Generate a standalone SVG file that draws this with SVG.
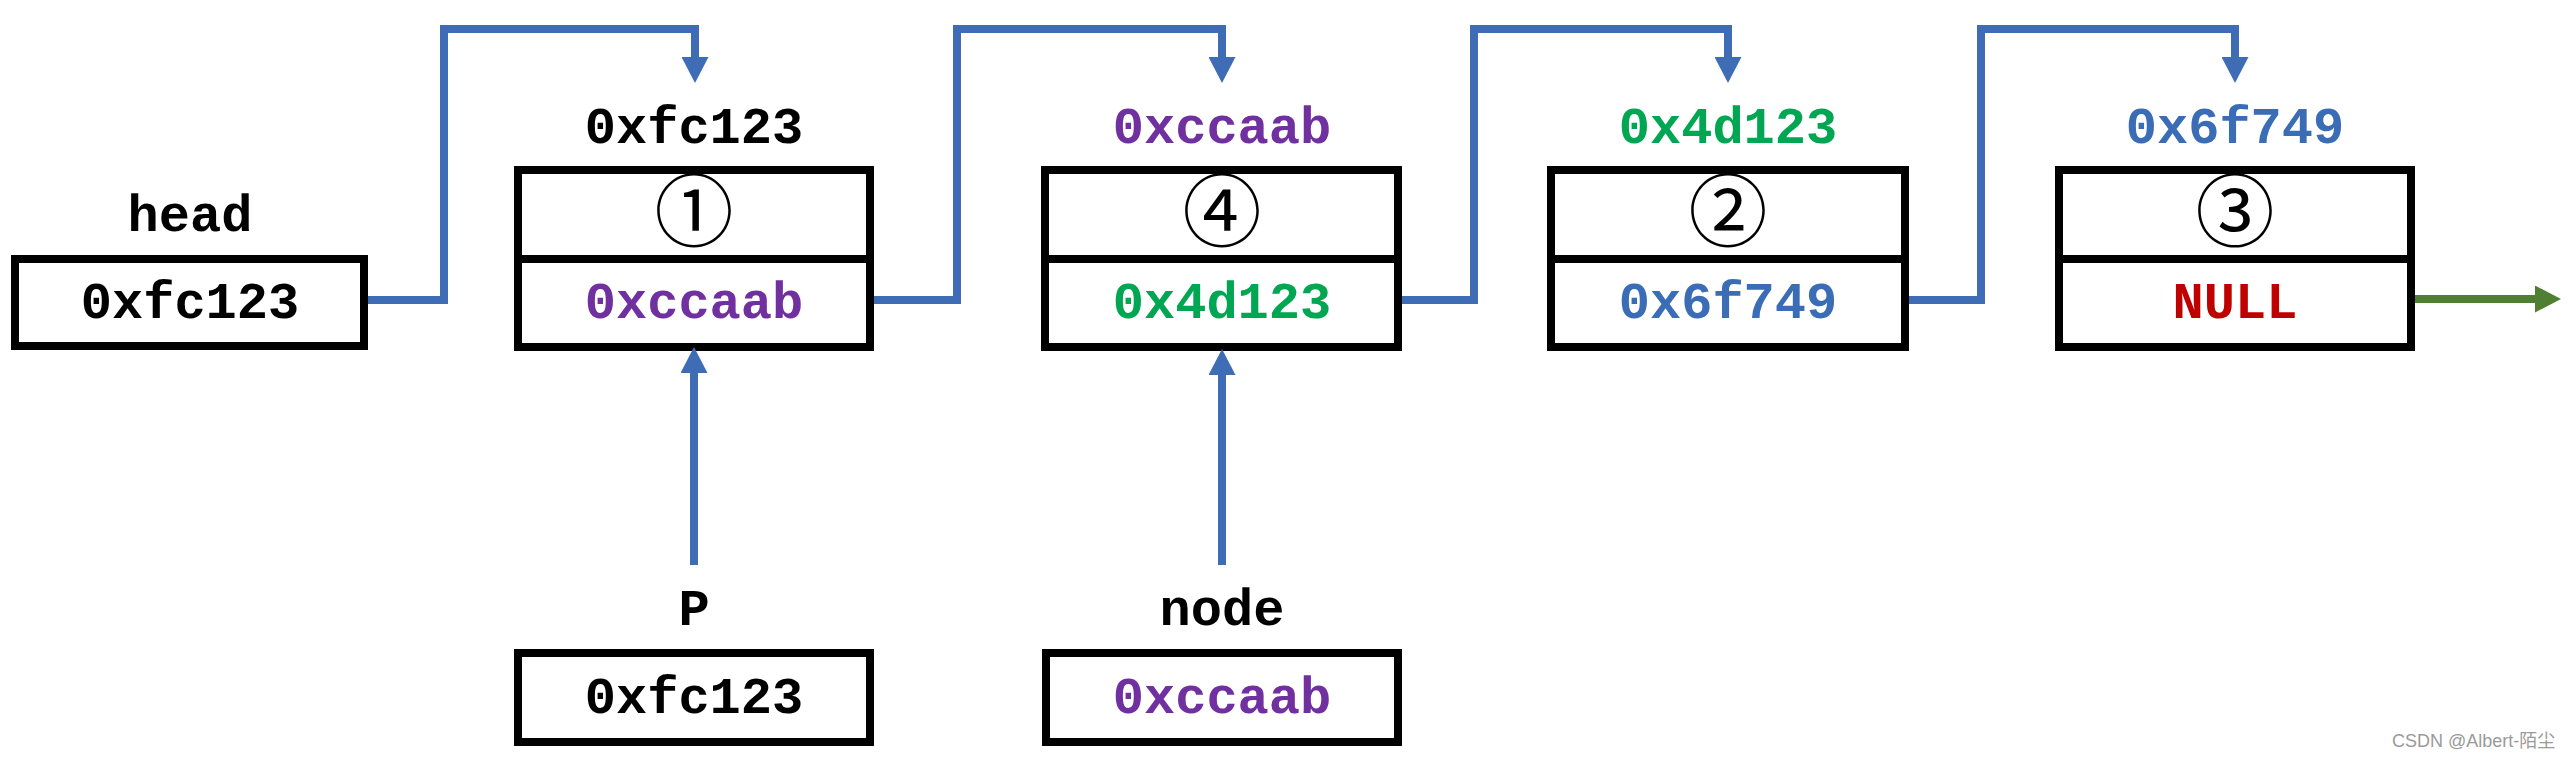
<svg xmlns="http://www.w3.org/2000/svg" width="2574" height="760" viewBox="0 0 2574 760">
  <style>
    .box { fill: #ffffff; stroke: #000000; stroke-width: 8; }
    .div { stroke: #000000; stroke-width: 8; }
    .t { font-family: "Liberation Mono", "Courier New", monospace; font-weight: bold; font-size: 52px; text-anchor: middle; }
    .num { font-family: "Noto Sans CJK SC", "DejaVu Sans", sans-serif; font-size: 79px; text-anchor: middle; fill: #000; }
    .blk { fill: #000000; }
    .pur { fill: #7030A0; }
    .grn { fill: #00A651; }
    .blu { fill: #3A6DB5; }
    .red { fill: #C00000; }
    .link { fill: none; stroke: #3E6DB5; stroke-width: 8; stroke-linejoin: miter; }
    .nil { fill: none; stroke: #4E7F32; stroke-width: 8; }
    .wm { font-family: "Liberation Sans", "Noto Sans CJK SC", sans-serif; font-size: 18px; fill: #9a9a9a; }
  </style>
  <defs>
    <marker id="ab" markerUnits="userSpaceOnUse" markerWidth="27" markerHeight="27" refX="2" refY="13.5" orient="auto" viewBox="0 0 27 27">
      <path d="M0,0 L26,13.5 L0,27 z" fill="#3E6DB5"/>
    </marker>
    <marker id="ag" markerUnits="userSpaceOnUse" markerWidth="27" markerHeight="27" refX="2" refY="13.5" orient="auto" viewBox="0 0 27 27">
      <path d="M0,0 L26,13.5 L0,27 z" fill="#4E7F32"/>
    </marker>
  </defs>
  <rect width="2574" height="760" fill="#ffffff"/>

  <g id="head">
    <text class="t blk" x="190" y="231">head</text>
    <rect class="box" x="15" y="259" width="349" height="87"/>
    <text class="t blk" x="190" y="318">0xfc123</text>
  </g>

  <g id="node1">
    <text class="t blk" x="694" y="143">0xfc123</text>
    <rect class="box" x="518" y="170" width="352" height="177"/>
    <line class="div" x1="518" y1="259" x2="870" y2="259"/>
    <text class="num" x="694" y="241">①</text>
    <text class="t pur" x="694" y="318">0xccaab</text>
  </g>

  <g id="node4">
    <text class="t pur" x="1222" y="143">0xccaab</text>
    <rect class="box" x="1045" y="170" width="353" height="177"/>
    <line class="div" x1="1045" y1="259" x2="1398" y2="259"/>
    <text class="num" x="1222" y="241">④</text>
    <text class="t grn" x="1222" y="318">0x4d123</text>
  </g>

  <g id="node2">
    <text class="t grn" x="1728" y="143">0x4d123</text>
    <rect class="box" x="1551" y="170" width="354" height="177"/>
    <line class="div" x1="1551" y1="259" x2="1905" y2="259"/>
    <text class="num" x="1728" y="241">②</text>
    <text class="t blu" x="1728" y="318">0x6f749</text>
  </g>

  <g id="node3">
    <text class="t blu" x="2235" y="143">0x6f749</text>
    <rect class="box" x="2059" y="170" width="352" height="177"/>
    <line class="div" x1="2059" y1="259" x2="2411" y2="259"/>
    <text class="num" x="2235" y="241">③</text>
    <text class="t red" x="2235" y="318">NULL</text>
  </g>

  <g id="p">
    <text class="t blk" x="694" y="625">P</text>
    <rect class="box" x="518" y="653" width="352" height="89"/>
    <text class="t blk" x="694" y="713">0xfc123</text>
  </g>

  <g id="node">
    <text class="t blk" x="1222" y="625">node</text>
    <rect class="box" x="1046" y="653" width="352" height="89"/>
    <text class="t pur" x="1222" y="713">0xccaab</text>
  </g>

  <g id="connectors">
    <path class="link" d="M368,300 H444 V29 H695 V59" marker-end="url(#ab)"/>
    <path class="link" d="M874,300 H957 V29 H1222 V59" marker-end="url(#ab)"/>
    <path class="link" d="M1402,300 H1474 V29 H1728 V59" marker-end="url(#ab)"/>
    <path class="link" d="M1909,300 H1981 V29 H2235 V59" marker-end="url(#ab)"/>
    <path class="link" d="M694,565 V371" marker-end="url(#ab)"/>
    <path class="link" d="M1222,565 V373" marker-end="url(#ab)"/>
    <path class="nil" d="M2415,299 H2537" marker-end="url(#ag)"/>
  </g>

  <text class="wm" x="2392" y="747">CSDN @Albert-陌尘</text>
</svg>
